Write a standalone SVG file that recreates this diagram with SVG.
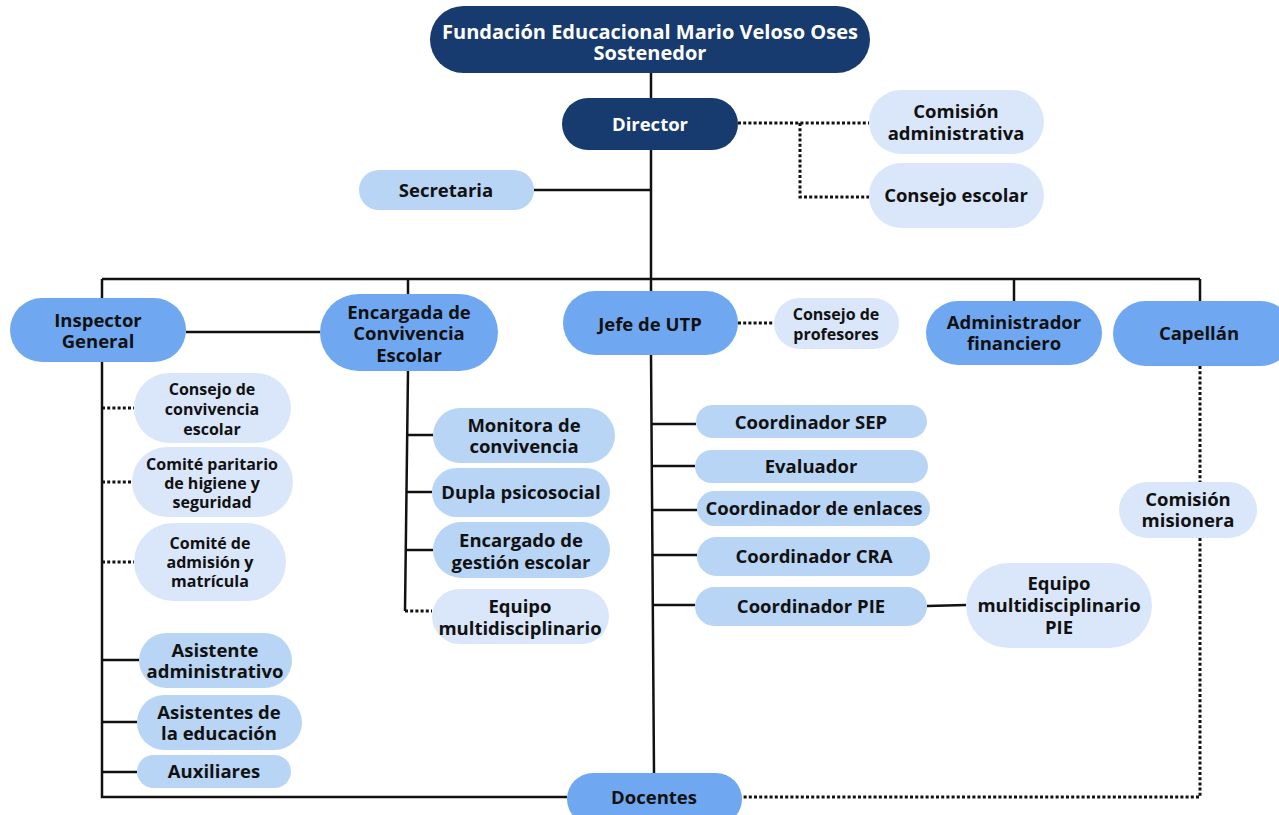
<svg xmlns="http://www.w3.org/2000/svg" width="1279" height="815" viewBox="0 0 1279 815">
<style>
text{font-family:"Open Sans","Noto Sans","Liberation Sans",sans-serif;font-weight:bold;text-anchor:middle;fill:#111;}
.t{font-size:18.5px;}
.s{font-size:16px;}
.w{fill:#fff;font-size:18.5px;}
.dark{fill:#173b6e;}
.mid{fill:#6fa8f1;}
.lt{fill:#b9d5f6;}
.vl{fill:#dae7fb;}
.ln{stroke:#111;stroke-width:2.5;fill:none;}
.dt{stroke:#111;stroke-width:3;fill:none;stroke-dasharray:3 2.2;}
</style>
<rect width="1279" height="815" fill="#fff"/>
<g id="connectors">
<path class="ln" d="M651 73V98M651 150V279M534 190H651M102 279H1200M102 279V298M408 279V294M651 279V291M1014 279V301M1200 279V301"/>
<path class="ln" d="M186 332H320"/>
<path class="ln" d="M102 362V797H567M102 660H139M102 722H137M102 772H137"/>
<path class="ln" d="M408 371L405 611M407 435H433M406 492H432M406 550H433"/>
<path class="ln" d="M651 355L654 773M652 424H696M652 466H695M653 510H697M653 555H697M654 605H695M927 606L966 605"/>
<path class="dt" d="M738 123H869M800 123V197H869"/>
<path class="dt" d="M738 323H774"/>
<path class="dt" d="M102 408H134M102 482H132M102 562H134"/>
<path class="dt" d="M405 611H432"/>
<path class="dt" d="M1200 366V482M1200 538V797H742"/>
</g>
<g id="sostenedor"><rect class="dark" x="430" y="6" width="440" height="67" rx="33.5"/><text class="w" x="650" y="39" style="font-size:20px">Fundación Educacional Mario Veloso Oses</text><text class="w" x="650" y="60" style="font-size:20px">Sostenedor</text></g>
<g id="director"><rect class="dark" x="562" y="98" width="176" height="52" rx="26"/><text class="w" x="650" y="131">Director</text></g>
<g id="comision-administrativa"><rect class="vl" x="869" y="90" width="175" height="64" rx="32"/><text class="t" x="956" y="118">Comisión</text><text class="t" x="956" y="140">administrativa</text></g>
<g id="consejo-escolar"><rect class="vl" x="869" y="163" width="175" height="65" rx="32.5"/><text class="t" x="956" y="202">Consejo escolar</text></g>
<g id="secretaria"><rect class="lt" x="359" y="170" width="175" height="40" rx="20"/><text class="t" x="446" y="197">Secretaria</text></g>
<g id="inspector-general"><rect class="mid" x="10" y="298" width="176" height="64" rx="32"/><text class="t" x="98" y="327">Inspector</text><text class="t" x="98" y="348">General</text></g>
<g id="encargada-convivencia"><rect class="mid" x="320" y="294" width="178" height="77" rx="38.5"/><text class="t" x="409" y="319">Encargada de</text><text class="t" x="409" y="340">Convivencia</text><text class="t" x="409" y="362">Escolar</text></g>
<g id="jefe-utp"><rect class="mid" x="563" y="291" width="175" height="64" rx="32"/><text class="t" x="650" y="331">Jefe de UTP</text></g>
<g id="consejo-profesores"><rect class="vl" x="774" y="298" width="125" height="51" rx="25.5"/><text class="s" x="836" y="320">Consejo de</text><text class="s" x="836" y="340">profesores</text></g>
<g id="administrador-financiero"><rect class="mid" x="926" y="301" width="176" height="64" rx="32"/><text class="t" x="1014" y="329">Administrador</text><text class="t" x="1014" y="350">financiero</text></g>
<g id="capellan"><rect class="mid" x="1113" y="301" width="180" height="65" rx="32.5"/><text class="t" x="1199" y="340">Capellán</text></g>
<g id="consejo-convivencia"><rect class="vl" x="134" y="373" width="157" height="70" rx="35"/><text class="s" x="212" y="395">Consejo de</text><text class="s" x="212" y="415">convivencia</text><text class="s" x="212" y="435">escolar</text></g>
<g id="comite-paritario"><rect class="vl" x="132" y="447" width="161" height="70" rx="35"/><text class="s" x="212" y="470">Comité paritario</text><text class="s" x="212" y="489">de higiene y</text><text class="s" x="212" y="508">seguridad</text></g>
<g id="comite-admision"><rect class="vl" x="134" y="523" width="152" height="78" rx="39"/><text class="s" x="210" y="549">Comité de</text><text class="s" x="210" y="568">admisión y</text><text class="s" x="210" y="587">matrícula</text></g>
<g id="asistente-administrativo"><rect class="lt" x="139" y="633" width="153" height="55" rx="27.5"/><text class="t" x="215" y="657">Asistente</text><text class="t" x="215" y="678">administrativo</text></g>
<g id="asistentes-educacion"><rect class="lt" x="137" y="695" width="165" height="55" rx="27.5"/><text class="t" x="219" y="719">Asistentes de</text><text class="t" x="219" y="740">la educación</text></g>
<g id="auxiliares"><rect class="lt" x="137" y="755" width="154" height="33" rx="16.5"/><text class="t" x="214" y="778">Auxiliares</text></g>
<g id="monitora-convivencia"><rect class="lt" x="433" y="408" width="182" height="55" rx="27.5"/><text class="t" x="524" y="432">Monitora de</text><text class="t" x="524" y="453">convivencia</text></g>
<g id="dupla-psicosocial"><rect class="lt" x="432" y="468" width="178" height="49" rx="24.5"/><text class="t" x="521" y="499">Dupla psicosocial</text></g>
<g id="encargado-gestion"><rect class="lt" x="433" y="522" width="177" height="56" rx="28"/><text class="t" x="521" y="547">Encargado de</text><text class="t" x="521" y="569">gestión escolar</text></g>
<g id="equipo-multidisciplinario"><rect class="vl" x="432" y="589" width="177" height="55" rx="27.5"/><text class="t" x="520" y="613">Equipo</text><text class="t" x="520" y="635">multidisciplinario</text></g>
<g id="coordinador-sep"><rect class="lt" x="696" y="405" width="231" height="33" rx="16.5"/><text class="t" x="811" y="429">Coordinador SEP</text></g>
<g id="evaluador"><rect class="lt" x="695" y="450" width="233" height="33" rx="16.5"/><text class="t" x="811" y="473">Evaluador</text></g>
<g id="coordinador-enlaces"><rect class="lt" x="697" y="491" width="233" height="35" rx="17.5"/><text class="t" x="814" y="515">Coordinador de enlaces</text></g>
<g id="coordinador-cra"><rect class="lt" x="697" y="537" width="233" height="39" rx="19.5"/><text class="t" x="814" y="563">Coordinador CRA</text></g>
<g id="coordinador-pie"><rect class="lt" x="695" y="587" width="232" height="39" rx="19.5"/><text class="t" x="811" y="613">Coordinador PIE</text></g>
<g id="equipo-pie"><rect class="vl" x="966" y="563" width="186" height="85" rx="42.5"/><text class="t" x="1059" y="590">Equipo</text><text class="t" x="1059" y="612">multidisciplinario</text><text class="t" x="1059" y="634">PIE</text></g>
<g id="comision-misionera"><rect class="vl" x="1119" y="482" width="138" height="56" rx="28"/><text class="t" x="1188" y="506">Comisión</text><text class="t" x="1188" y="527">misionera</text></g>
<g id="docentes"><rect class="mid" x="567" y="773" width="175" height="52" rx="26"/><text class="t" x="654" y="804">Docentes</text></g>
</svg>
